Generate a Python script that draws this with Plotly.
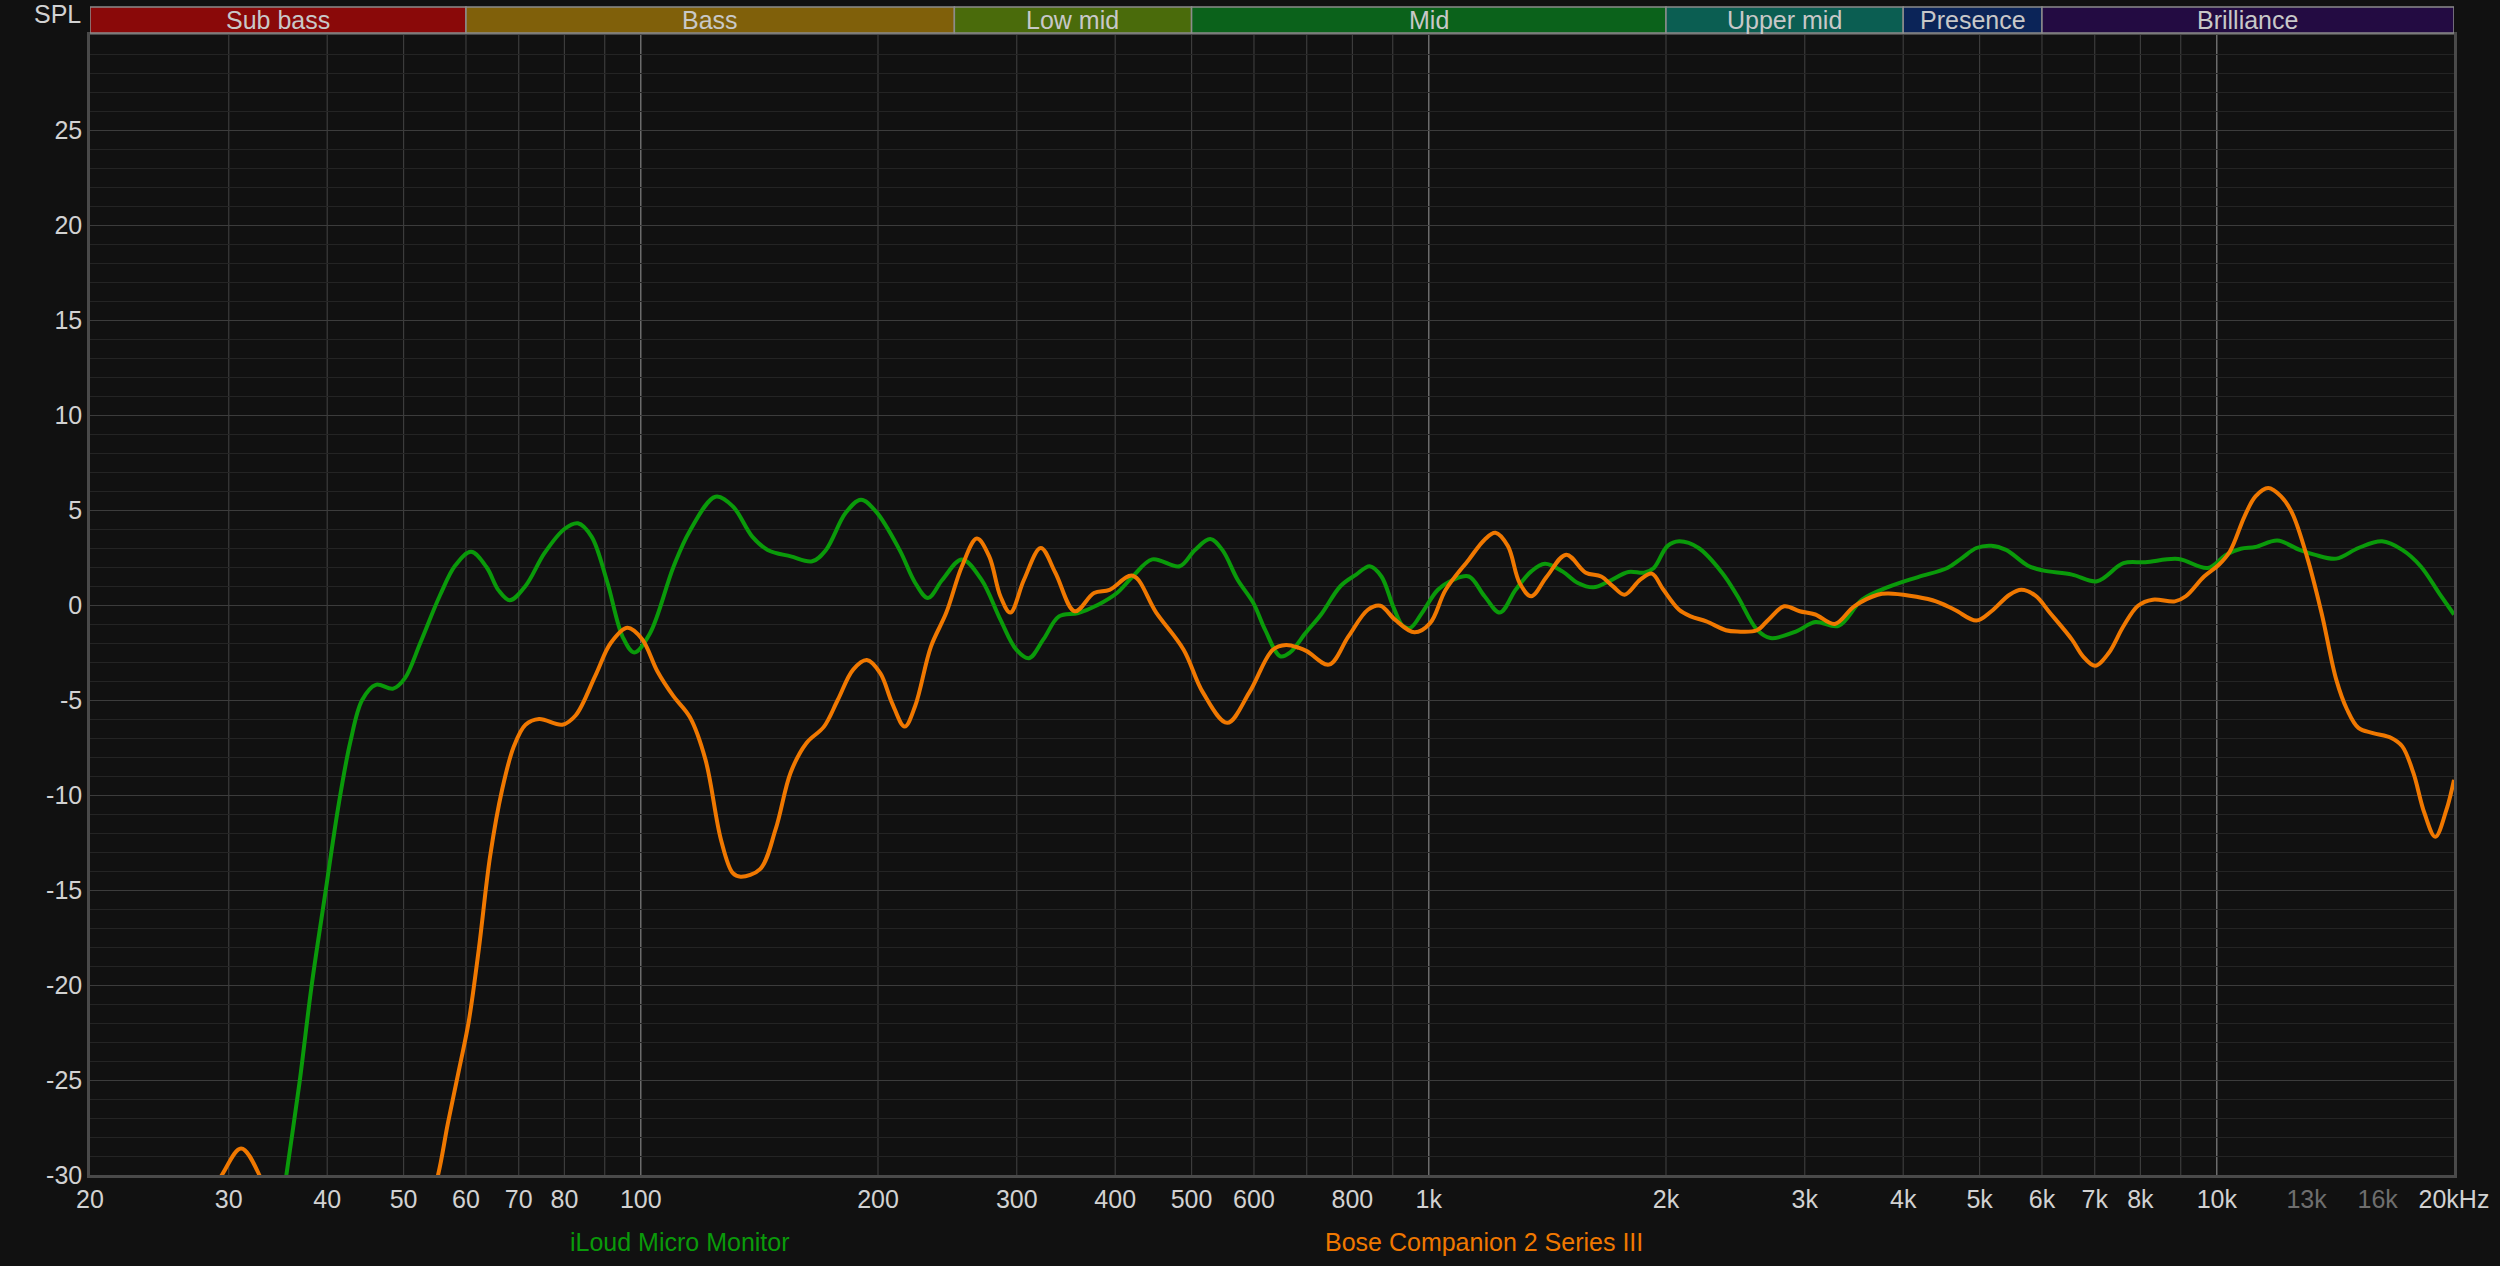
import math
import plotly.graph_objects as go

# ---------------- data ----------------
freq_iloud = [20, 28, 32, 34.2, 35.5, 36.9, 38.2, 39.8, 41.4, 42.8, 44.3, 46.1, 48.5, 50.2, 52.5,
              55.6, 58.2, 60.9, 63.7, 66.0, 68.2, 71.4, 75.5, 80.0, 83.2, 86.6, 90.6, 94.9, 98.1,
              102.7, 110, 115.4, 124.4, 130.8, 138.5, 144.9, 155, 165, 171.8, 181.9, 190.3, 199,
              213, 223, 231.4, 241.4, 255.6, 270.6, 286, 299.6, 310.8, 324.4, 339.4, 359, 380,
              402, 421, 445.8, 482.8, 505, 528, 547, 572, 599, 619.7, 648, 666.6, 697.6, 730,
              772.8, 808.8, 841.6, 870.8, 901, 926.8, 948, 981, 1027, 1074.6, 1124.6, 1177, 1231,
              1288.8, 1349, 1404, 1477.6, 1546, 1618, 1693, 1792, 1876, 1930, 2008, 2078, 2200,
              2356, 2465, 2609, 2714, 2922, 3094, 3311, 3547, 3832, 4176, 4550, 4748, 4954,
              5176, 5402, 5760, 6012, 6550, 7046, 7612, 8116, 8938, 9742, 10278, 10728, 11197,
              11940, 12735, 13300, 14178, 15127, 16208, 17194, 18142, 19144, 20000]
db_iloud = [-70, -55, -42, -35, -30, -25.1, -20.1, -15.1, -10.4, -7.2, -5.0, -4.2, -4.4, -3.85, -2.0,
            0.5, 2.1, 2.8, 2.0, 0.77, 0.25, 1.0, 2.74, 4.0, 4.3, 3.6, 1.25, -1.7, -2.5,
            -1.5, 2.0, 3.9, 5.7, 5.2, 3.6, 2.9, 2.56, 2.3, 2.9, 4.84, 5.54, 4.9,
            2.9, 1.16, 0.37, 1.33, 2.4, 1.33, -0.77, -2.35, -2.8, -1.8, -0.6, -0.42, 0.0,
            0.63, 1.5, 2.4, 2.04, 2.9, 3.47, 2.9, 1.33, 0.1, -1.3, -2.7, -2.5, -1.47, -0.5,
            1.0, 1.6, 2.04, 1.5, -0.07, -1.1, -1.2, -0.4, 0.8, 1.33, 1.5, 0.46, -0.4,
            0.8, 1.77, 2.17, 1.77, 1.16, 0.93, 1.25, 1.74, 1.7, 1.95, 3.1, 3.35, 3.0,
            1.7, 0.46, -1.3, -1.74, -1.4, -0.9, -1.1, 0.28, 0.95, 1.47, 1.95, 2.47, 3.0,
            3.12, 2.9, 2.07, 1.82, 1.6, 1.25, 2.2, 2.25, 2.42, 1.95, 2.65, 2.96, 3.05,
            3.39, 2.9, 2.65, 2.44, 3.0, 3.35, 2.9, 2.04, 0.63, -0.5]

freq_bose = [20, 25, 28, 29.4, 31.1, 32.8, 36, 42, 50, 53.5, 55.3, 56.9, 58.9, 60.5, 62.3, 64.4,
             66.7, 69.0, 71.4, 74.3, 79.5, 82.7, 87.6, 91.6, 96.2, 100.4, 105, 110, 115.4, 120.8,
             126.4, 130.8, 133.9, 141.7, 148.3, 155, 162.3, 170.8, 177.8, 186, 193.6, 201.4,
             208.4, 216.2, 223, 233.4, 244.2, 255.6, 267, 276.8, 286, 294.4, 306.4, 321.8,
             335.8, 355.4, 376, 393.4, 421, 450.9, 488.5, 516.8, 555, 592, 634, 659, 684.7,
             701, 747, 790.8, 837, 868, 905.8, 959, 1004, 1050.6, 1124.6, 1177, 1215, 1260,
             1304, 1349, 1412, 1494, 1582, 1655, 1713, 1772, 1855, 1919, 1985, 2078, 2150,
             2250, 2382, 2465, 2609, 2698, 2825, 2956, 3094, 3275, 3466, 3712, 3832, 4358,
             4648, 4954, 5176, 5458, 5650, 5886, 6144, 6550, 6764, 7008, 7292, 7612, 7944,
             8294, 8846, 9134, 9636, 10060, 10390, 10846, 11197, 11622, 12066, 12464, 13012,
             13582, 14178, 14632, 15127, 15784, 16654, 17194, 17762, 18344, 18938, 19556, 20000]
db_bose = [-40, -35, -31.5, -30, -28.6, -30, -36, -40, -36, -32, -30, -27.3, -24.3, -21.9, -18.1, -13.2,
           -9.7, -7.45, -6.3, -6.0, -6.3, -5.8, -3.7, -2.0, -1.2, -1.8, -3.5, -4.8, -5.9, -8.14,
           -12.35, -14.1, -14.3, -13.9, -11.8, -8.8, -7.26, -6.4, -5.0, -3.4, -2.9, -3.6,
           -5.16, -6.4, -5.3, -2.2, -0.4, 2.04, 3.5, 2.56, 0.46, -0.4, 1.33, 3.0,
           1.7, -0.33, 0.63, 0.8, 1.54, -0.4, -2.35, -4.6, -6.2, -4.6, -2.35, -2.1, -2.26,
           -2.44, -3.14, -1.65, -0.25, -0.04, -0.77, -1.44, -0.95, 0.8, 2.4, 3.44, 3.8, 3.1,
           1.16, 0.46, 1.5, 2.65, 1.7, 1.5, 0.98, 0.54, 1.33, 1.65, 0.8, -0.25, -0.6,
           -0.86, -1.33, -1.4, -1.33, -0.77, -0.07, -0.33, -0.5, -1.0, -0.07, 0.54, 0.6, 0.25,
           -0.25, -0.82, -0.33, 0.54, 0.8, 0.49, -0.42, -1.82, -2.7, -3.2, -2.53, -1.12, -0.04,
           0.28, 0.19, 0.46, 1.5, 2.12, 2.82, 4.67, 5.72, 6.16, 5.72, 4.84, 2.56,
           -0.42, -3.93, -5.5, -6.47, -6.74, -7.0, -7.44, -8.84, -10.95, -12.2, -10.8, -9.2]

series_names = ["iLoud Micro Monitor", "Bose Companion 2 Series III"]
series_colors = ["#0a9a0a", "#f07800"]

band_names = ["Sub bass", "Bass", "Low mid", "Mid", "Upper mid", "Presence", "Brilliance"]
band_edges = [20, 60, 250, 500, 2000, 4000, 6000, 20000]
band_colors = ["#8a0909", "#80600a", "#4a6b0b", "#0b621b", "#0b5e52", "#0b2458", "#230b42"]

x_tick_vals = [20, 30, 40, 50, 60, 70, 80, 100, 200, 300, 400, 500, 600, 800, 1000, 2000, 3000,
               4000, 5000, 6000, 7000, 8000, 10000, 13000, 16000, 20000]
x_tick_text = ["20", "30", "40", "50", "60", "70", "80", "100", "200", "300", "400", "500", "600",
               "800", "1k", "2k", "3k", "4k", "5k", "6k", "7k", "8k", "10k",
               "<span style='color:#6e6e6e'>13k</span>", "<span style='color:#6e6e6e'>16k</span>",
               "20kHz"]
y_tick_vals = [-30, -25, -20, -15, -10, -5, 0, 5, 10, 15, 20, 25]
y_tick_text = ["-30", "-25", "-20", "-15", "-10", "-5", "0", "5", "10", "15", "20", "25"]

# ---------------- styling ----------------
BG = "#111111"
FONT = "Liberation Sans, Arial, sans-serif"
TXT = "#d2d2d2"

fig = go.Figure()
for f, d, name, col in [(freq_iloud, db_iloud, series_names[0], series_colors[0]),
                        (freq_bose, db_bose, series_names[1], series_colors[1])]:
    fig.add_trace(go.Scatter(x=f, y=d, mode="lines", name=name,
                             line=dict(color=col, width=4, shape="spline", smoothing=1.0),
                             showlegend=False))

shapes = []
# vertical grid lines (1-2-...-9 per decade)
for decade in [10, 100, 1000, 10000]:
    for m in range(1, 10):
        fv = m * decade
        if fv <= 20 or fv >= 20000:
            continue
        if m == 1:
            col, w = "#7a7a7a", 1.3
        elif fv > 10000:
            col, w = "#282828", 1.2
        else:
            col, w = "#3c3c3c", 1.2
        shapes.append(dict(type="line", xref="x", yref="paper", x0=fv, x1=fv, y0=0, y1=1,
                           line=dict(color=col, width=w), layer="between"))

# frequency band header
H = 1140.0
band_y0 = 1 + 2 / H
band_y1 = 1 + 28 / H
annotations = []
for i, nm in enumerate(band_names):
    f0, f1 = band_edges[i], band_edges[i + 1]
    shapes.append(dict(type="rect", xref="x", yref="paper", x0=f0, x1=f1, y0=band_y0, y1=band_y1,
                       fillcolor=band_colors[i], line=dict(color="#8c8c8c", width=1.5), layer="above"))
    annotations.append(dict(xref="x", yref="paper", x=(math.log10(f0) + math.log10(f1)) / 2,
                            y=(band_y0 + band_y1) / 2, text=nm, showarrow=False,
                            font=dict(family=FONT, size=25, color="#c8c8c8"),
                            xanchor="center", yanchor="middle"))

annotations.append(dict(xref="paper", yref="paper", x=-7 / 2364, y=1 + 21 / H, text="SPL",
                        showarrow=False, xanchor="right", yanchor="middle",
                        font=dict(family=FONT, size=25, color=TXT)))

legend_x = [680, 1484]
for i, nm in enumerate(series_names):
    annotations.append(dict(xref="paper", yref="paper", x=(legend_x[i] - 90) / 2364.0,
                            y=-67 / H, text=nm, showarrow=False, xanchor="center", yanchor="middle",
                            font=dict(family=FONT, size=25, color=series_colors[i])))

fig.update_layout(
    width=2500, height=1266,
    margin=dict(l=90, r=46, t=35, b=91),
    paper_bgcolor=BG, plot_bgcolor=BG,
    shapes=shapes, annotations=annotations,
    showlegend=False,
    xaxis=dict(type="log", range=[math.log10(20), math.log10(20000)],
               tickmode="array", tickvals=x_tick_vals, ticktext=x_tick_text,
               showgrid=False, zeroline=False,
               showline=True, linecolor="#4a4a4a", linewidth=2.5, mirror=True,
               ticks="", tickfont=dict(family=FONT, size=25, color=TXT)),
    yaxis=dict(range=[-30, 30], tickmode="array", tickvals=y_tick_vals, ticktext=y_tick_text,
               showgrid=True, gridcolor="#3c3c3c", gridwidth=1.2, zeroline=False,
               minor=dict(dtick=1, showgrid=True, gridcolor="#242424", gridwidth=1),
               showline=True, linecolor="#4a4a4a", linewidth=2.5, mirror=True,
               ticks="", tickfont=dict(family=FONT, size=25, color=TXT)),
)

fig.write_html("out.html", config={"displayModeBar": False},
               post_script="document.body.style.margin='0';document.body.style.background='#111111';")
